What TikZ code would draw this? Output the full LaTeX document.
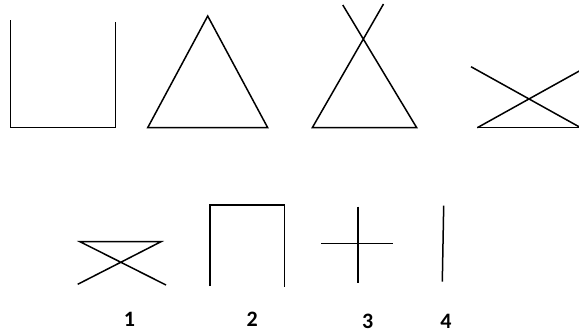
\documentclass[tikz,border=0pt]{standalone}
\usepackage{fontspec}
\setmainfont{Carlito}
\begin{document}
\begin{tikzpicture}[x=1pt,y=-1pt,
  stroke/.style={line width=1.5pt,line cap=butt,line join=miter},
  lbl/.style={font=\bfseries\fontsize{22}{24}\selectfont,inner sep=0pt}]
\useasboundingbox (0,0) rectangle (579,335);
\begin{scope}
\clip (0,0) rectangle (579,335);
% top row
\draw[stroke] (10.7,20) -- (10.7,127.7) -- (115.7,127.7) -- (115.7,21.5);
\draw[stroke] (207.7,16) -- (147.7,127.7) -- (267.7,127.7) -- cycle;
\draw[stroke] (383.5,4) -- (312.3,127.7) -- (416.7,127.7) -- (342.8,5);
\draw[stroke] (471,66.7) -- (582,128.4);
\draw[stroke] (477.3,127.7) -- (582,127.7);
\draw[stroke] (477.3,127.7) -- (582,69.5);
% bottom row
\draw[stroke] (77.7,284.3) -- (161,241.7) -- (80,241.7) -- (166,285);
\draw[stroke] (210,286) -- (210,205) -- (284.3,205) -- (284.3,286.7);
\draw[stroke] (321,243.3) -- (392.7,243.3);
\draw[stroke] (358,206.7) -- (358,283.3);
\draw[stroke] (443.7,205.7) -- (442.3,281.7);
\end{scope}
\node[lbl] (l1) at (129.5,319) {1};
\node[lbl] (l2) at (252.3,319) {2};
\node[lbl] (l3) at (367.7,321.5) {3};
\node[lbl] (l4) at (446,321.5) {4};
\end{tikzpicture}
\end{document}
